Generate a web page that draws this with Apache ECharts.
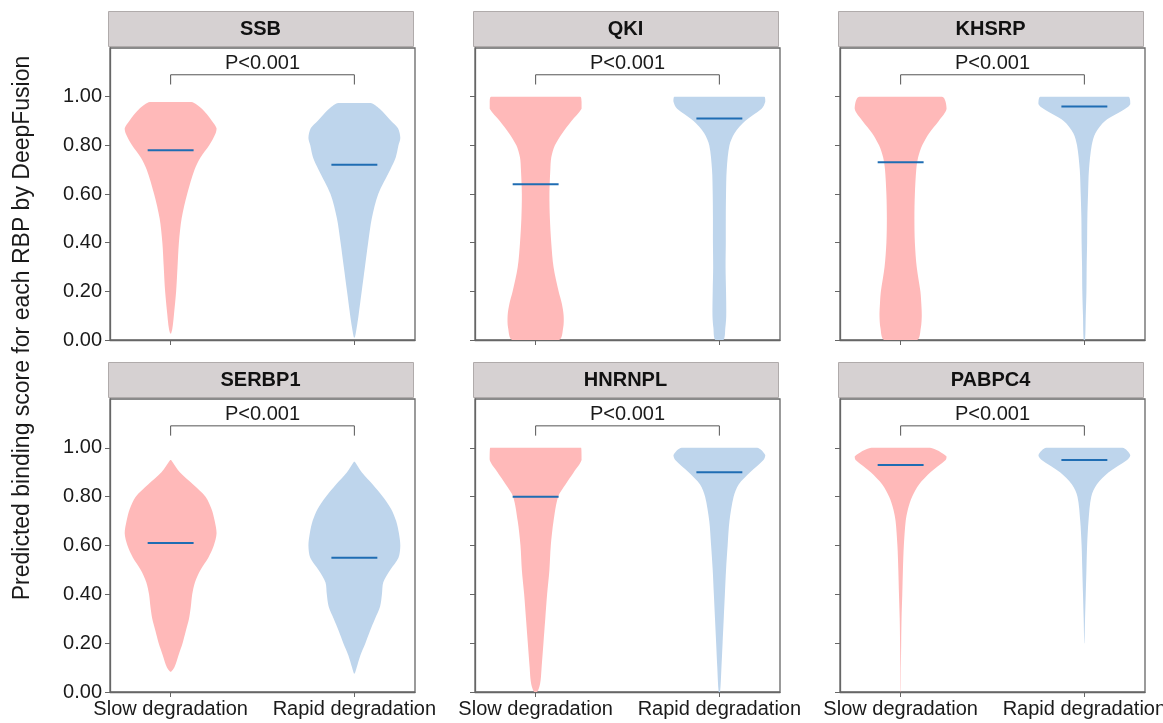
<!DOCTYPE html>
<html>
<head>
<meta charset="utf-8">
<script src="https://cdn.jsdelivr.net/npm/echarts@6/dist/echarts.min.js"></script>
<style>
  html, body { margin: 0; padding: 0; background: #fff; }
  #chart { width: 1163px; height: 723px; }
</style>
</head>
<body>
<div id="chart"></div>
<script>
// panel titles (RBP) and the two groups
var panelTitles = ['SSB', 'QKI', 'KHSRP', 'SERBP1', 'HNRNPL', 'PABPC4'];
var groups = ['Slow degradation', 'Rapid degradation'];
var yTicks = [0, 0.2, 0.4, 0.6, 0.8, 1.0];
var pLabels = ['P<0.001', 'P<0.001', 'P<0.001', 'P<0.001', 'P<0.001', 'P<0.001'];

// medians [slow, rapid] per panel
var medians = [
  [0.78, 0.72],
  [0.64, 0.91],
  [0.73, 0.96],
  [0.61, 0.55],
  [0.80, 0.90],
  [0.93, 0.95]
];

// violin profiles: [score, relative density] from bottom to top
var ssbSlow = [[0.027,0.01],[0.05,0.04],[0.1,0.07],[0.2,0.12],[0.3,0.15],[0.4,0.18],[0.5,0.24],[0.6,0.36],[0.7,0.52],[0.75,0.65],[0.8,0.84],[0.85,0.98],[0.87,1.0],[0.9,0.9],[0.95,0.68],[0.978,0.45]];
var ssbRapid = [[0.01,0.01],[0.05,0.05],[0.1,0.09],[0.2,0.16],[0.3,0.23],[0.4,0.30],[0.5,0.38],[0.6,0.52],[0.7,0.78],[0.75,0.9],[0.8,0.96],[0.83,1.0],[0.87,0.95],[0.9,0.8],[0.95,0.55],[0.974,0.35]];
var qkiSlow = [[0,0.51],[0.05,0.6],[0.1,0.61],[0.15,0.57],[0.2,0.5],[0.3,0.39],[0.4,0.34],[0.5,0.31],[0.6,0.30],[0.7,0.32],[0.75,0.34],[0.8,0.42],[0.85,0.58],[0.9,0.78],[0.95,1.0],[0.98,1.0],[1.0,0.97]];
var qkiRapid = [[0,0.09],[0.05,0.13],[0.1,0.15],[0.2,0.145],[0.3,0.135],[0.4,0.14],[0.5,0.14],[0.6,0.145],[0.7,0.16],[0.8,0.22],[0.85,0.33],[0.9,0.56],[0.95,0.92],[0.98,1.0],[1.0,0.98]];
var khsrpSlow = [[0,0.36],[0.05,0.44],[0.1,0.46],[0.15,0.45],[0.2,0.43],[0.3,0.35],[0.4,0.31],[0.5,0.30],[0.6,0.31],[0.7,0.34],[0.75,0.38],[0.8,0.47],[0.85,0.62],[0.9,0.83],[0.95,1.0],[1.0,0.9]];
var khsrpRapid = [[0,0.015],[0.1,0.03],[0.2,0.045],[0.3,0.05],[0.4,0.06],[0.5,0.065],[0.6,0.08],[0.7,0.10],[0.8,0.16],[0.85,0.24],[0.9,0.45],[0.95,0.89],[0.97,1.0],[1.0,0.96]];
var serbp1Slow = [[0.083,0.01],[0.1,0.08],[0.15,0.17],[0.2,0.26],[0.25,0.33],[0.3,0.4],[0.35,0.44],[0.4,0.47],[0.45,0.53],[0.5,0.65],[0.55,0.82],[0.6,0.94],[0.65,1.0],[0.7,0.96],[0.75,0.89],[0.8,0.76],[0.85,0.49],[0.9,0.2],[0.95,0.01]];
var serbp1Rapid = [[0.076,0.01],[0.1,0.05],[0.15,0.13],[0.2,0.24],[0.25,0.34],[0.3,0.45],[0.35,0.56],[0.4,0.6],[0.45,0.63],[0.5,0.78],[0.55,0.96],[0.6,1.0],[0.65,0.97],[0.7,0.91],[0.75,0.8],[0.8,0.62],[0.85,0.4],[0.9,0.16],[0.943,0.01]];
var hnrnplSlow = [[0,0.03],[0.02,0.08],[0.05,0.11],[0.1,0.13],[0.2,0.17],[0.3,0.21],[0.4,0.25],[0.5,0.3],[0.6,0.33],[0.7,0.39],[0.8,0.49],[0.85,0.65],[0.9,0.83],[0.95,1.0],[1.0,0.99]];
var hnrnplRapid = [[0,0.015],[0.1,0.045],[0.2,0.07],[0.3,0.095],[0.4,0.12],[0.5,0.145],[0.6,0.18],[0.7,0.22],[0.8,0.31],[0.85,0.42],[0.9,0.67],[0.95,0.96],[0.97,1.0],[1.0,0.82]];
var pabpc4Slow = [[0,0.003],[0.1,0.006],[0.2,0.012],[0.3,0.02],[0.4,0.036],[0.5,0.05],[0.6,0.07],[0.7,0.11],[0.75,0.16],[0.8,0.25],[0.85,0.4],[0.9,0.65],[0.95,0.98],[0.965,1.0],[1.0,0.64]];
var pabpc4Rapid = [[0.2,0.003],[0.3,0.015],[0.4,0.03],[0.5,0.045],[0.6,0.06],[0.7,0.09],[0.8,0.15],[0.85,0.27],[0.9,0.53],[0.95,0.93],[0.97,1.0],[1.0,0.83]];

var profiles = [
  [ssbSlow, ssbRapid],
  [qkiSlow, qkiRapid],
  [khsrpSlow, khsrpRapid],
  [serbp1Slow, serbp1Rapid],
  [hnrnplSlow, hnrnplRapid],
  [pabpc4Slow, pabpc4Rapid]
];

var FONT = '"Liberation Sans", Arial, sans-serif';
var violinColors = ['#ffb9b9', '#bed5ec'];
var medianColor = '#1f6db3';
var axisColor = '#666';
var halfWidth = 0.25;   // max half width of a violin, x units
var medianHalf = 0.125;

var colLeft = [110, 475, 840];
var rowTop = [48, 399];
var rowHeight = [292, 293];
var gridWidth = 305;

function violinRenderer(panel) {
  return function (params, api) {
    var g = params.dataIndex;
    var x = api.value(0);
    var prof = profiles[panel][g];
    var right = prof.map(function (p) { return api.coord([x + p[1] * halfWidth, p[0]]); });
    var left = prof.slice().reverse().map(function (p) { return api.coord([x - p[1] * halfWidth, p[0]]); });
    var m = medians[panel][g];
    var a = api.coord([x - medianHalf, m]);
    var b = api.coord([x + medianHalf, m]);
    var c = right[0];
    return {
      type: 'group',
      children: [
        { type: 'polygon',
          shape: { points: right.concat(left), smooth: 0.3, smoothConstraint: [c, c] },
          style: { fill: violinColors[g] } },
        { type: 'line', shape: { x1: a[0], y1: a[1], x2: b[0], y2: b[1] },
          style: { stroke: medianColor, lineWidth: 2 } }
      ]
    };
  };
}

function bracketRenderer(panel) {
  return function (params, api) {
    var p1 = api.coord([1, 1.05]), p2 = api.coord([1, 1.09]);
    var p3 = api.coord([2, 1.09]), p4 = api.coord([2, 1.05]);
    var t = api.coord([1.5, 1.135]);
    return {
      type: 'group',
      children: [
        { type: 'polyline', shape: { points: [p1, p2, p3, p4] },
          style: { stroke: '#555', lineWidth: 1, fill: null } },
        { type: 'text', x: t[0], y: t[1],
          style: { text: pLabels[panel], fill: '#1a1a1a', fontSize: 20, fontFamily: FONT,
                   align: 'center', verticalAlign: 'middle' } }
      ]
    };
  };
}

var grids = [], xAxes = [], yAxes = [], series = [], graphics = [];

panelTitles.forEach(function (title, i) {
  var col = i % 3, row = Math.floor(i / 3);
  var left = colLeft[col], top = rowTop[row];
  grids.push({
    left: left, top: top, width: gridWidth, height: rowHeight[row],
    outerBoundsMode: 'none',
    show: true, borderColor: axisColor, borderWidth: 1.3
  });
  xAxes.push({
    gridIndex: i, type: 'value', min: 0.67, max: 2.33,
    axisLine: { show: true, onZero: false, lineStyle: { color: axisColor, width: 1.3 } },
    axisTick: { show: true, customValues: [1, 2], length: 5, lineStyle: { color: axisColor } },
    axisLabel: {
      show: row === 1, customValues: [1, 2], margin: 7,
      formatter: function (v) { return groups[Math.round(v) - 1]; },
      color: '#1a1a1a', fontSize: 20, fontFamily: FONT
    },
    splitLine: { show: false }
  });
  yAxes.push({
    gridIndex: i, type: 'value', min: 0, max: 1.2, interval: 0.2,
    axisLine: { show: true, onZero: false, lineStyle: { color: axisColor, width: 1.3 } },
    axisTick: { show: true, customValues: yTicks, length: 5, lineStyle: { color: axisColor } },
    axisLabel: {
      show: col === 0, customValues: yTicks, margin: 8,
      formatter: function (v) { return v.toFixed(2); },
      color: '#1a1a1a', fontSize: 20, fontFamily: FONT
    },
    splitLine: { show: false }
  });
  series.push({
    type: 'custom', xAxisIndex: i, yAxisIndex: i,
    renderItem: violinRenderer(i),
    data: [[1, 0], [2, 1]],
    silent: true
  });
  series.push({
    type: 'custom', xAxisIndex: i, yAxisIndex: i,
    renderItem: bracketRenderer(i),
    data: [[1.5, 1.1]],
    silent: true
  });
  // strip header
  graphics.push({
    type: 'rect', left: left - 2, top: top - 37,
    shape: { width: gridWidth, height: 35 },
    style: { fill: '#d6d1d2', stroke: '#b0abab', lineWidth: 1 }
  });
  graphics.push({
    type: 'text', x: left - 2 + gridWidth / 2, y: top - 19,
    style: { text: title, fill: '#111', fontSize: 20, fontWeight: 'bold', fontFamily: FONT,
             align: 'center', verticalAlign: 'middle' }
  });
});

graphics.push({
  type: 'text', x: 23, y: 328, rotation: Math.PI / 2,
  style: { text: 'Predicted binding score for each RBP by DeepFusion', fill: '#1a1a1a',
           fontSize: 23, fontFamily: FONT, align: 'center', verticalAlign: 'middle' }
});

var chart = echarts.init(document.getElementById('chart'), null, { renderer: 'canvas' });
chart.setOption({
  animation: false,
  backgroundColor: '#fff',
  grid: grids,
  xAxis: xAxes,
  yAxis: yAxes,
  series: series,
  graphic: graphics
});
</script>
</body>
</html>
